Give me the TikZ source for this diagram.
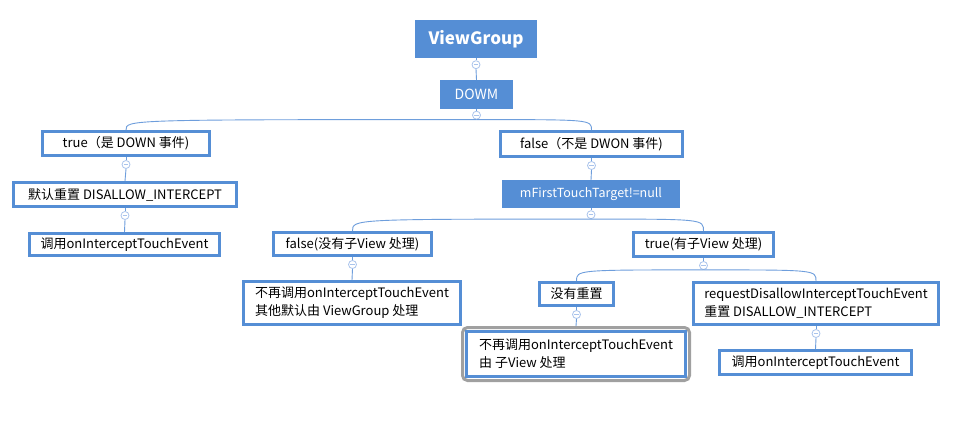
\documentclass[tikz,border=0pt]{standalone}
\usepackage{fontspec}
\setmainfont{Noto Sans CJK SC}
\usetikzlibrary{calc}
\definecolor{bblue}{RGB}{85,142,213}
\definecolor{lblue}{RGB}{110,158,220}
\definecolor{cblue}{RGB}{170,196,236}
\definecolor{hgray}{RGB}{160,160,160}
\tikzset{
  x=1pt,y=-1pt,
  every node/.style={font=\fontsize{13}{15}\selectfont, inner sep=0pt, text=black},
  obox/.style={draw=bblue, line width=3pt, fill=white, align=left},
  fbox/.style={fill=bblue, text=white},
  twol/.style={font=\fontsize{13}{18}\selectfont},
  conn/.style={draw=lblue, line width=0.9pt},
  tog/.style={circle, draw=cblue, fill=white, line width=0.8pt, minimum size=8pt,
    path picture={\draw[cblue,line width=0.8pt] ([xshift=-2.3pt]path picture bounding box.center) -- ([xshift=2.3pt]path picture bounding box.center);}},
}
\begin{document}
\begin{tikzpicture}
\useasboundingbox (0,0) rectangle (971,423);
\fill[white] (0,0) rectangle (971,423);
% nodes
\node[fbox, minimum width=122pt, minimum height=38pt, font=\fontsize{17}{18}\selectfont\bfseries] (vg) at (476,39) {ViewGroup};
\node[fbox, minimum width=73pt, minimum height=29pt, font=\fontsize{14}{16}\selectfont] (dowm) at (476.5,94.5) {DOWM};
\node[obox, minimum width=167pt, minimum height=24pt] (t1) at (126,143.5) {true（是 DOWN 事件)};
\node[obox, minimum width=223pt, minimum height=24pt] (t2) at (125,194.5) {默认重置 DISALLOW\_INTERCEPT};
\node[obox, minimum width=190pt, minimum height=22pt] (t3) at (124.5,244.5) {调用onInterceptTouchEvent};
\node[obox, minimum width=182pt, minimum height=25pt] (f1) at (591.5,144) {false（不是 DWON 事件)};
\node[fbox, minimum width=178pt, minimum height=28pt, font=\fontsize{12.5}{15}\selectfont] (mf) at (591,194) {mFirstTouchTarget!=null};
\node[obox, minimum width=158pt, minimum height=23pt] (f2) at (352.5,244) {false(没有子View 处理)};
\node[obox, twol, minimum width=217pt, minimum height=43pt] (f3) at (352,303) {不再调用onInterceptTouchEvent\\其他默认由 ViewGroup 处理};
\node[obox, minimum width=140pt, minimum height=24pt] (tr) at (703.5,244.5) {true(有子View 处理)};
\node[obox, minimum width=74pt, minimum height=23pt] (nr) at (576.5,294) {没有重置};
\draw[hgray, line width=3pt, rounded corners=5pt] (462.5,327.5) rectangle (689.5,380.5);
\node[obox, twol, minimum width=219pt, minimum height=45pt] (nv) at (576,354) {不再调用onInterceptTouchEvent\\由 子View 处理};
\node[obox, twol, minimum width=245pt, minimum height=42pt] (rq) at (816,303.5) {requestDisallowInterceptTouchEvent\\重置 DISALLOW\_INTERCEPT};
\node[obox, minimum width=192pt, minimum height=24pt] (rc) at (815.5,362.5) {调用onInterceptTouchEvent};
% toggles
\node[tog] (c1) at ($(vg.south)+(0,6.5)$) {};
\node[tog] (c2) at ($(dowm.south)+(0,6)$) {};
\node[tog] (c3) at ($(t1.south)+(0,7.5)$) {};
\node[tog] (c4) at ($(t2.south)+(0,7.5)$) {};
\node[tog] (c5) at ($(f1.south)+(0,7.5)$) {};
\node[tog] (c6) at ($(mf.south)+(0,6.5)$) {};
\node[tog] (c7) at ($(f2.south)+(0,7.5)$) {};
\node[tog] (c8) at ($(tr.south)+(0,7.5)$) {};
\node[tog] (c9) at ($(nr.south)+(0,7.5)$) {};
\node[tog] (c10) at ($(rq.south)+(0,7.5)$) {};
% connectors
\path[conn] (vg.south) -- (c1.north);
\path[conn] (c1.south) -- (dowm.north);
\path[conn] (dowm.south) -- (c2.north);
\path[conn] (c2.south) .. controls (c2.south -| t1.north) .. (t1.north);
\path[conn] (c2.south) .. controls (c2.south -| f1.north) .. (f1.north);
\path[conn] (t1.south) -- (c3.north);
\path[conn] (c3.south) -- (t2.north);
\path[conn] (t2.south) -- (c4.north);
\path[conn] (c4.south) -- (t3.north);
\path[conn] (f1.south) -- (c5.north);
\path[conn] (c5.south) -- (mf.north);
\path[conn] (mf.south) -- (c6.north);
\path[conn] (c6.south) .. controls (c6.south -| f2.north) .. (f2.north);
\path[conn] (c6.south) .. controls (c6.south -| tr.north) .. (tr.north);
\path[conn] (f2.south) -- (c7.north);
\path[conn] (c7.south) -- (f3.north);
\path[conn] (tr.south) -- (c8.north);
\path[conn] (c8.south) .. controls (c8.south -| nr.north) .. (nr.north);
\path[conn] (c8.south) .. controls (c8.south -| rq.north) .. (rq.north);
\path[conn] (nr.south) -- (c9.north);
\path[conn] (c9.south) -- ($(nv.north)+(0,-4)$);
\path[conn] (rq.south) -- (c10.north);
\path[conn] (c10.south) -- (rc.north);
\end{tikzpicture}
\end{document}
